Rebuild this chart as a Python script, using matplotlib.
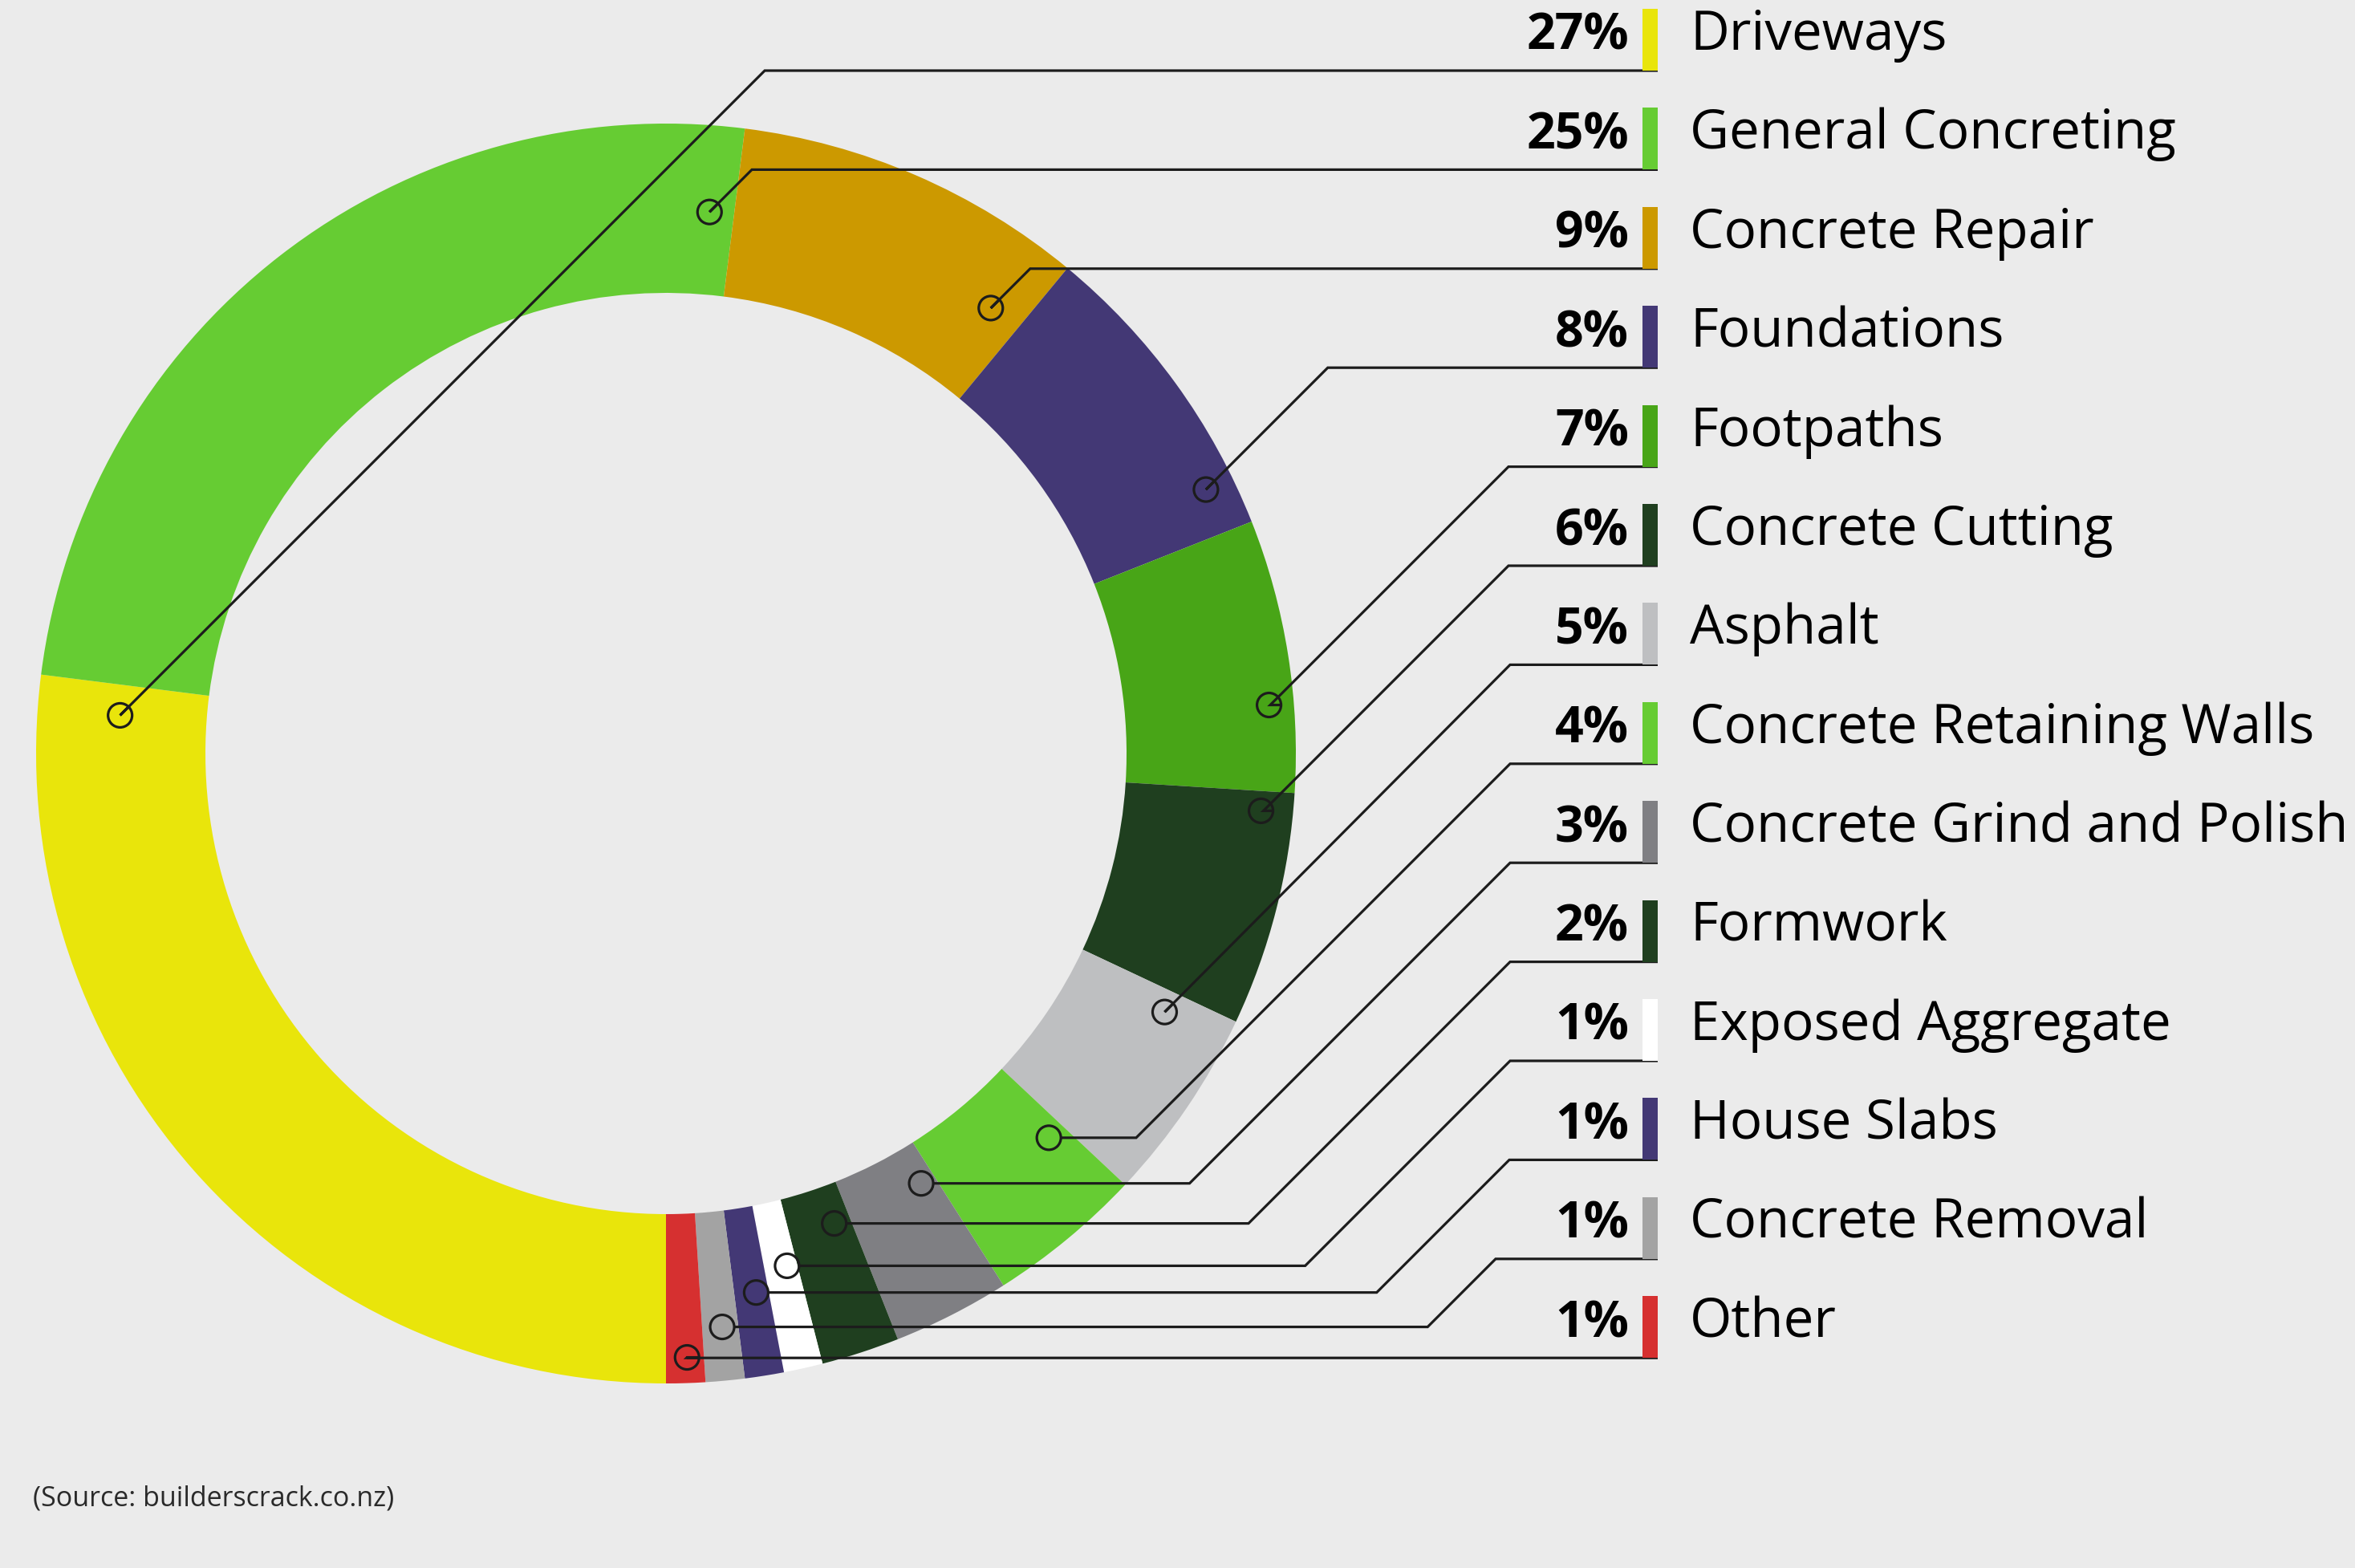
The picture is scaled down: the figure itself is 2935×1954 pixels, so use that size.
import matplotlib
matplotlib.use("Agg")
import matplotlib.pyplot as plt
from matplotlib.patches import Circle, Rectangle
import numpy as np

# ---------------- data ----------------
categories = ["Driveways", "General Concreting", "Concrete Repair", "Foundations",
              "Footpaths", "Concrete Cutting", "Asphalt", "Concrete Retaining Walls",
              "Concrete Grind and Polish", "Formwork", "Exposed Aggregate",
              "House Slabs", "Concrete Removal", "Other"]
shares = [27, 25, 9, 8, 7, 6, 5, 4, 3, 2, 1, 1, 1, 1]
pct_labels = ["27%", "25%", "9%", "8%", "7%", "6%", "5%", "4%", "3%", "2%",
              "1%", "1%", "1%", "1%"]
colors = ["#E9E50B", "#66CC33", "#CC9900", "#433875", "#48A517", "#1F3F1F",
          "#BEBFC1", "#66CC33", "#7F7F83", "#1F3F1F", "#FFFFFF", "#433875",
          "#A3A3A3", "#D63030"]
source_text = "(Source: builderscrack.co.nz)"

# leader anchor positions (angle in degrees, radius in px) and elbow x
anchor_angle = [176.0, 85.4, 53.9, 26.05, 4.6, -5.5, -27.4, -45.1, -59.3,
                -70.3, -76.7, -80.5, -84.4, -88.0]
anchor_radius = [682, 677, 687, 749, 754, 745, 700, 676, 623, 622, 656, 681, 718, 753]
knee_x = [None, None, None, None, 1880, 1880, 1882, 1882, 1882, 1882, 1882,
          1881, 1864, None]

# ---------------- layout ----------------
W, H = 2935, 1954
BG = "#EBEBEB"
fig = plt.figure(figsize=(W / 100, H / 100), dpi=100, facecolor=BG)
ax = fig.add_axes([0, 0, 1, 1])
ax.set_facecolor(BG)

def sy(y):  # screen y -> data y
    return H - y

cx0, cy0 = 830, sy(939)
R_out, R_in = 785, 574

ax.pie(shares, colors=colors, startangle=270, counterclock=False,
       radius=R_out, center=(cx0, cy0),
       wedgeprops=dict(width=R_out - R_in, linewidth=0, antialiased=True))

ax.set_xlim(0, W)
ax.set_ylim(0, H)
ax.set_aspect("equal")
ax.axis("off")

LINE_C = "#1c1c1c"
LW = 2.3
circ_r = 15
row_step = 123.4
line_y0 = 88
base_y0 = 62
bar_x0, bar_x1 = 2047, 2066
bar_h = 77

pct_font = dict(family="Open Sans", fontweight="bold", fontsize=45)
lab_font = dict(family="Open Sans", fontsize=48.5)

for i, name in enumerate(categories):
    L = sy(line_y0 + row_step * i)
    a = np.deg2rad(anchor_angle[i])
    px = cx0 + anchor_radius[i] * np.cos(a)
    py = cy0 + anchor_radius[i] * np.sin(a)
    dy = L - py
    if knee_x[i] is None:
        hx = px
        kx = px + dy
    else:
        kx = knee_x[i]
        hx = max(px, kx - dy)
    xs = [px, hx, kx, bar_x1]
    ys = [py, py, L, L]
    # start at circle edge
    if hx - px > 1:
        xs[0] = px + circ_r
    elif dy > 1:
        xs[0] = px + circ_r * np.cos(np.pi / 4)
        ys[0] = py + circ_r * np.sin(np.pi / 4)
    else:
        xs[0] = px + circ_r
    ax.plot(xs, ys, color=LINE_C, lw=LW, solid_capstyle="butt",
            solid_joinstyle="miter", zorder=5)
    ax.add_patch(Circle((px, py), circ_r, fill=False, edgecolor=LINE_C,
                        lw=LW, zorder=6))
    ax.add_patch(Rectangle((bar_x0, L), bar_x1 - bar_x0, bar_h,
                           facecolor=colors[i], edgecolor="none", zorder=7))
    by = sy(base_y0 + row_step * i)
    ax.text(2030, by, pct_labels[i], ha="right", va="baseline",
            color="black", zorder=8, **pct_font)
    ax.text(2106, by, name, ha="left", va="baseline", color="black",
            zorder=8, **lab_font)

ax.text(41, sy(1876), source_text, ha="left", va="baseline",
        color="#2a2a2a", family="Open Sans", fontsize=24.5)

fig.savefig("out.png", dpi=100, facecolor=BG)
